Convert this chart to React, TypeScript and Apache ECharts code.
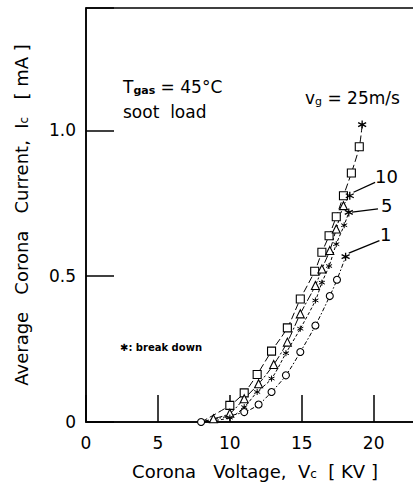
import React, { useEffect, useRef } from "react";
import * as echarts from "echarts";

// Corona voltage (kV), average corona current (mA)
const onset: [number, number] = [8.0, 0];

const vg25: [number, number][] = [
  [10.0, 0.057], [11.0, 0.10], [11.9, 0.163], [12.9, 0.243], [14.0, 0.323],
  [14.9, 0.422], [15.9, 0.517], [16.4, 0.582], [16.9, 0.639], [17.4, 0.704],
  [17.9, 0.776], [18.45, 0.854], [19.0, 0.944],
];
const vg25Break: [number, number] = [19.2, 1.02];

const vg10: [number, number][] = [
  [8.86, 0.011], [10.0, 0.03], [11.0, 0.08], [12.0, 0.131], [13.05, 0.197],
  [14.0, 0.274], [14.9, 0.371], [15.95, 0.468], [16.4, 0.525], [16.95, 0.588],
  [17.4, 0.662], [17.9, 0.742],
];
const vg10Break: [number, number] = [18.34, 0.776];

const vg5: [number, number][] = [
  [10.0, 0.015], [11.0, 0.051], [11.9, 0.103], [12.9, 0.149], [13.9, 0.236],
  [14.9, 0.32], [15.95, 0.417], [16.4, 0.478], [16.9, 0.535], [17.4, 0.61],
  [17.95, 0.675],
];
const vg5Break: [number, number] = [18.27, 0.719];

const vg1: [number, number][] = [
  [11.0, 0.034], [12.0, 0.06], [12.9, 0.103], [13.9, 0.16], [14.9, 0.24],
  [15.95, 0.331], [16.95, 0.432], [17.45, 0.488],
];
const vg1Break: [number, number] = [18.05, 0.567];

const xTicks = [0, 5, 10, 15, 20];
const yTicks = [0, 0.5, 1.0];

// leader lines from curve labels (data coordinates)
const leader10: [number, number][] = [[18.6, 0.788], [20.1, 0.822]];
const leader5: [number, number][] = [[18.5, 0.72], [20.3, 0.731]];
const leader1: [number, number][] = [[18.27, 0.579], [20.4, 0.622]];

const STAR = "path://M5,0L5,10M0.67,2.5L9.33,7.5M0.67,7.5L9.33,2.5";
const FONT = "DejaVu Sans";

export default function App() {
  const ref = useRef<HTMLDivElement>(null);
  useEffect(() => {
    if (!ref.current) return;
    const chart = echarts.init(ref.current, undefined, { renderer: "svg" });

    const hollow = { color: "#fff", borderColor: "#000", borderWidth: 1.1 };
    const breakItem = (p: [number, number]) => ({
      value: p,
      symbol: STAR,
      symbolSize: 8,
      itemStyle: { color: "none", borderColor: "#000", borderWidth: 1.3 },
    });
    const startItem = { value: onset, symbol: "none" };

    const mkSeries = (
      name: string,
      pts: [number, number][],
      brk: [number, number],
      symbol: string,
      size: number,
      dash: number[],
      startSymbol: boolean,
      extra: any = {}
    ) => ({
      name,
      type: "line",
      smooth: 0.3,
      symbol,
      symbolSize: size,
      itemStyle: symbol === STAR ? { color: "none", borderColor: "#000", borderWidth: 1 } : hollow,
      lineStyle: { color: "#000", width: 1, type: dash },
      data: [
        startSymbol ? { value: onset, symbol: "circle", symbolSize: 7 } : startItem,
        ...pts.map((p) => ({ value: p })),
        breakItem(brk),
      ],
      z: 3,
      ...extra,
    });

    const leaderLine = (seg: [number, number][]) => [
      { coord: seg[0] },
      { coord: seg[1] },
    ];

    const titleRich = {
      t: { fontFamily: FONT, fontSize: 18, color: "#000" },
      s: { fontFamily: FONT, fontSize: 12, color: "#000", verticalAlign: "bottom", padding: [5, 0, 0, 0] },
    };

    chart.setOption({
      animation: false,
      backgroundColor: "#fff",
      grid: {
        left: 86,
        top: 8,
        width: 338,
        bottom: 64,
        show: true,
        borderColor: "#000",
        borderWidth: 1.5,
        backgroundColor: "transparent",
        containLabel: false,
        outerBoundsMode: "none",
      },
      xAxis: {
        type: "value",
        min: 0,
        max: 23.5,
        interval: 5,
        axisLine: { show: true, lineStyle: { color: "#000", width: 1.5 } },
        axisTick: { show: true, inside: true, length: 27, lineStyle: { color: "#000", width: 1.5 } },
        splitLine: { show: false },
        axisLabel: {
          color: "#000",
          fontFamily: FONT,
          fontSize: 17,
          margin: 12,
          formatter: (v: number) => (xTicks.includes(v) ? String(v) : ""),
        },
        name: "{t|Corona   Voltage,  V}{s|c}{t|  [ KV ]}",
        nameLocation: "middle",
        nameGap: 40,
        nameTextStyle: { rich: titleRich },
      },
      yAxis: {
        type: "value",
        min: 0,
        max: 1.42,
        interval: 0.5,
        axisLine: { show: true, lineStyle: { color: "#000", width: 1.5 } },
        axisTick: { show: true, inside: true, length: 28, lineStyle: { color: "#000", width: 1.5 } },
        splitLine: { show: false },
        axisLabel: {
          color: "#000",
          fontFamily: FONT,
          fontSize: 17,
          margin: 10,
          formatter: (v: number) =>
            yTicks.some((t) => Math.abs(t - v) < 1e-6) ? (v === 0 ? "0" : v.toFixed(1)) : "",
        },
        name: "{t|Average   Corona   Current,  I}{s|c}{t|   [ mA ]}",
        nameLocation: "middle",
        nameGap: 56,
        nameRotate: 90,
        nameTextStyle: { rich: titleRich },
      },
      series: [
        mkSeries("25 m/s", vg25, vg25Break, "rect", 8, [7, 3], false),
        mkSeries("10 m/s", vg10, vg10Break, "triangle", 8, [8, 2, 2, 2], false, {
          markLine: {
            silent: true,
            symbol: "none",
            lineStyle: { color: "#000", width: 1.3, type: "solid" },
            label: { show: false },
            data: [leaderLine(leader10), leaderLine(leader5), leaderLine(leader1)],
          },
        }),
        mkSeries("5 m/s", vg5, vg5Break, STAR, 6, [3, 2], false),
        mkSeries("1 m/s", vg1, vg1Break, "circle", 7, [1.5, 2, 4, 2], true),
      ],
      graphic: [
        {
          type: "text",
          left: 123,
          top: 78,
          style: {
            text: "{t|T}{s|gas}{t| = 45°C}",
            rich: {
              t: { fontFamily: FONT, fontSize: 17, fill: "#000" },
              s: { fontFamily: FONT, fontSize: 11, fill: "#000", fontWeight: "bold", padding: [8, 0, 0, 0] },
            },
          },
        },
        {
          type: "text",
          left: 123,
          top: 103,
          style: { text: "soot  load", fontFamily: FONT, fontSize: 17, fill: "#000" },
        },
        {
          type: "text",
          left: 305,
          top: 89,
          style: {
            text: "{t|v}{s|g}{t| = 25m/s}",
            rich: {
              t: { fontFamily: FONT, fontSize: 17, fill: "#000" },
              s: { fontFamily: FONT, fontSize: 11, fill: "#000", padding: [8, 0, 0, 0] },
            },
          },
        },
        { type: "text", left: 375, top: 167, style: { text: "10", fontFamily: FONT, fontSize: 18, fill: "#000" } },
        { type: "text", left: 381, top: 196, style: { text: "5", fontFamily: FONT, fontSize: 18, fill: "#000" } },
        { type: "text", left: 380, top: 225, style: { text: "1", fontFamily: FONT, fontSize: 18, fill: "#000" } },
        {
          type: "text",
          left: 120,
          top: 342,
          style: { text: "✱: break down", fontFamily: FONT, fontSize: 10, fontWeight: "bold", fill: "#000" },
        },
      ],
    });
    return () => chart.dispose();
  }, []);
  return (
    <div
      ref={ref}
      style={{ position: "fixed", left: 0, top: 0, width: 413, height: 486, background: "#fff" }}
    />
  );
}
